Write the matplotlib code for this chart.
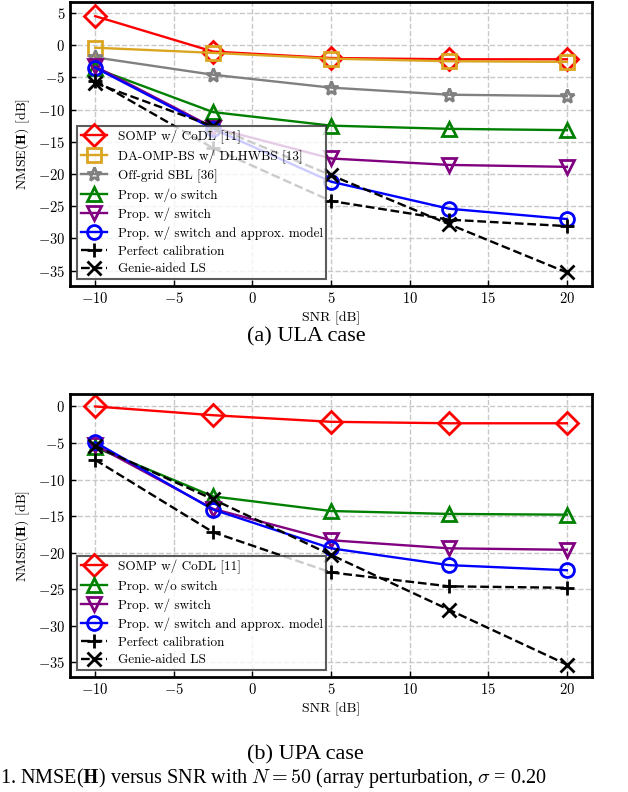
import numpy as np
import matplotlib
matplotlib.use('Agg')
import matplotlib.pyplot as plt

plt.rcParams['font.family'] = 'serif'
plt.rcParams['font.serif'] = ['cmr10']
plt.rcParams['mathtext.fontset'] = 'cm'
plt.rcParams['axes.formatter.use_mathtext'] = True
plt.rcParams['axes.unicode_minus'] = True

# SNR points
snr = [-10, -2.5, 5, 12.5, 20]

# (a) ULA case
ula_somp = [4.5, -1.0, -2.0, -2.2, -2.2]
ula_daomp = [-0.4, -1.2, -2.1, -2.5, -2.6]
ula_sbl = [-1.9, -4.6, -6.6, -7.7, -7.9]
ula_noswitch = [-3.6, -10.4, -12.5, -13.0, -13.2]
ula_switch = [-3.3, -12.8, -17.6, -18.6, -18.9]
ula_approx = [-3.5, -13.0, -21.2, -25.4, -27.0]
ula_perfect = [-5.5, -16.0, -24.2, -27.1, -28.1]
ula_genie = [-5.9, -12.6, -20.2, -27.8, -35.3]

# (b) UPA case
upa_somp = [0.0, -1.2, -2.1, -2.3, -2.3]
upa_noswitch = [-5.6, -12.3, -14.3, -14.7, -14.8]
upa_switch = [-5.3, -14.0, -18.3, -19.4, -19.6]
upa_approx = [-4.9, -14.1, -19.4, -21.7, -22.4]
upa_perfect = [-7.3, -17.2, -22.7, -24.6, -24.8]
upa_genie = [-5.4, -12.7, -20.3, -27.8, -35.3]

lbl_somp = 'SOMP w/ CoDL [11]'
lbl_daomp = 'DA-OMP-BS w/ DLHWBS [13]'
lbl_sbl = 'Off-grid SBL [36]'
lbl_noswitch = 'Prop. w/o switch'
lbl_switch = 'Prop. w/ switch'
lbl_approx = 'Prop. w/ switch and approx. model'
lbl_perfect = 'Perfect calibration'
lbl_genie = 'Genie-aided LS'

lw = 1.7
ms = 10
mew = 2


def style_axes(ax, ylim):
    ax.set_xlim(-11.6, 21.6)
    ax.set_ylim(*ylim)
    ax.set_xticks([-10, -5, 0, 5, 10, 15, 20])
    ax.grid(True, linestyle='--', color='#c8c8c8', linewidth=1.0)
    ax.set_axisbelow(True)
    ax.tick_params(direction='in', labelsize=10.5, length=4, width=1)
    for s in ax.spines.values():
        s.set_linewidth(2)
    ax.set_xlabel('SNR [dB]', fontsize=10, labelpad=4)
    ax.set_ylabel(r'NMSE($\mathbf{H}$) [dB]', fontsize=10, labelpad=4)
    leg = ax.legend(loc='lower left', fontsize=9.5, fancybox=False,
                    edgecolor='#333333', framealpha=0.8, handlelength=2,
                    borderpad=0.3, labelspacing=0.42, handletextpad=0.8)
    leg.get_frame().set_linewidth(1.5)


fig = plt.figure(figsize=(6.28, 7.92), dpi=100)
ax1 = fig.add_axes([0.1115, 0.6389, 0.8312, 0.3586])
ax2 = fig.add_axes([0.1115, 0.1452, 0.8312, 0.3573])

mk = dict(mfc='none', mew=mew, ms=ms, lw=lw)

ax1.plot(snr, ula_somp, '-D', color='red', label=lbl_somp, **dict(mk, ms=11))
ax1.plot(snr, ula_daomp, '-s', color='#DAA520', label=lbl_daomp, **mk)
ax1.plot(snr, ula_sbl, '-*', color='gray', label=lbl_sbl, **mk)
ax1.plot(snr, ula_noswitch, '-^', color='green', label=lbl_noswitch, **mk)
ax1.plot(snr, ula_switch, '-v', color='purple', label=lbl_switch, **mk)
ax1.plot(snr, ula_approx, '-o', color='blue', label=lbl_approx, **mk)
ax1.plot(snr, ula_perfect, '--+', color='black', label=lbl_perfect, **mk)
ax1.plot(snr, ula_genie, '--x', color='black', label=lbl_genie, **mk)
style_axes(ax1, (-37.4, 6.7))
ax1.set_yticks([5, 0, -5, -10, -15, -20, -25, -30, -35])

ax2.plot(snr, upa_somp, '-D', color='red', label=lbl_somp, **dict(mk, ms=11))
ax2.plot(snr, upa_noswitch, '-^', color='green', label=lbl_noswitch, **mk)
ax2.plot(snr, upa_switch, '-v', color='purple', label=lbl_switch, **mk)
ax2.plot(snr, upa_approx, '-o', color='blue', label=lbl_approx, **mk)
ax2.plot(snr, upa_perfect, '--+', color='black', label=lbl_perfect, **mk)
ax2.plot(snr, upa_genie, '--x', color='black', label=lbl_genie, **mk)
style_axes(ax2, (-37.0, 1.7))
ax2.set_yticks([0, -5, -10, -15, -20, -25, -30, -35])

fig.text(0.487, 0.5745, '(a) ULA case', ha='center', va='center',
         fontsize=16, family='Liberation Serif')
fig.text(0.487, 0.0467, '(b) UPA case', ha='center', va='center',
         fontsize=16, family='Liberation Serif')
fig.text(0.0, 0.002, r'1. NMSE($\mathbf{H}$) versus SNR with $N = 50$ (array perturbation, $\sigma$ = 0.20',
         ha='left', va='bottom', fontsize=14.5, family='Liberation Serif')

fig.savefig('out.png', dpi=100)
